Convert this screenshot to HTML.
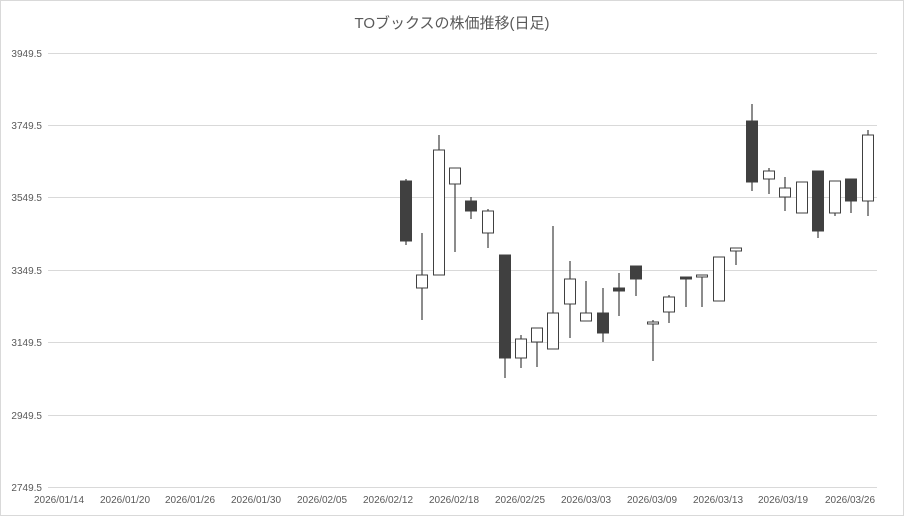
<!DOCTYPE html>
<html><head><meta charset="utf-8"><style>
body{margin:0;background:#fff}
svg{display:block;font-family:"Liberation Sans","Noto Sans CJK JP",sans-serif}
</style></head><body>
<svg width="904" height="516" viewBox="0 0 904 516" xmlns="http://www.w3.org/2000/svg">
<rect x="0.5" y="0.5" width="903" height="515" fill="#fff" stroke="#d9d9d9"/>
<text x="452" y="28" text-anchor="middle" font-size="15" fill="#595959">TOブックスの株価推移(日足)</text>
<g stroke="#d9d9d9" stroke-width="1">
<line x1="48" x2="877" y1="53.5" y2="53.5"/>
<line x1="48" x2="877" y1="125.5" y2="125.5"/>
<line x1="48" x2="877" y1="197.5" y2="197.5"/>
<line x1="48" x2="877" y1="270.5" y2="270.5"/>
<line x1="48" x2="877" y1="342.5" y2="342.5"/>
<line x1="48" x2="877" y1="415.5" y2="415.5"/>
<line x1="48" x2="877" y1="487.5" y2="487.5"/>
</g>
<g font-size="10" fill="#595959" text-anchor="end">
<text x="42" y="57">3949.5</text>
<text x="42" y="129">3749.5</text>
<text x="42" y="201">3549.5</text>
<text x="42" y="274">3349.5</text>
<text x="42" y="346">3149.5</text>
<text x="42" y="419">2949.5</text>
<text x="42" y="491">2749.5</text>
</g>
<g font-size="10" fill="#595959" text-anchor="middle">
<text x="59" y="503">2026/01/14</text>
<text x="125" y="503">2026/01/20</text>
<text x="190" y="503">2026/01/26</text>
<text x="256" y="503">2026/01/30</text>
<text x="322" y="503">2026/02/05</text>
<text x="388" y="503">2026/02/12</text>
<text x="454" y="503">2026/02/18</text>
<text x="520" y="503">2026/02/25</text>
<text x="586" y="503">2026/03/03</text>
<text x="652" y="503">2026/03/09</text>
<text x="718" y="503">2026/03/13</text>
<text x="783" y="503">2026/03/19</text>
<text x="850" y="503">2026/03/26</text>
</g>
<g stroke="#404040" stroke-width="1.2">
<line x1="406" x2="406" y1="179" y2="245"/>
<line x1="422" x2="422" y1="233" y2="320"/>
<line x1="439" x2="439" y1="135" y2="275"/>
<line x1="455" x2="455" y1="168" y2="252"/>
<line x1="471" x2="471" y1="197" y2="219"/>
<line x1="488" x2="488" y1="209" y2="248"/>
<line x1="505" x2="505" y1="255" y2="378"/>
<line x1="521" x2="521" y1="335" y2="368"/>
<line x1="537" x2="537" y1="328" y2="367"/>
<line x1="553" x2="553" y1="226" y2="349"/>
<line x1="570" x2="570" y1="261" y2="338"/>
<line x1="586" x2="586" y1="281" y2="321"/>
<line x1="603" x2="603" y1="288" y2="342"/>
<line x1="619" x2="619" y1="273" y2="316"/>
<line x1="636" x2="636" y1="266" y2="296"/>
<line x1="653" x2="653" y1="320" y2="361"/>
<line x1="669" x2="669" y1="295" y2="323"/>
<line x1="686" x2="686" y1="277" y2="307"/>
<line x1="702" x2="702" y1="275" y2="307"/>
<line x1="719" x2="719" y1="257" y2="301"/>
<line x1="736" x2="736" y1="248" y2="265"/>
<line x1="752" x2="752" y1="104" y2="191"/>
<line x1="769" x2="769" y1="168" y2="194"/>
<line x1="785" x2="785" y1="177" y2="211"/>
<line x1="802" x2="802" y1="182" y2="213"/>
<line x1="818" x2="818" y1="171" y2="238"/>
<line x1="835" x2="835" y1="181" y2="216"/>
<line x1="851" x2="851" y1="179" y2="213"/>
<line x1="868" x2="868" y1="130" y2="216"/>
</g>
<g stroke="#404040" stroke-width="1">
<rect x="400.5" y="181" width="11" height="60" fill="#404040"/>
<rect x="416.5" y="275" width="11" height="13" fill="#fff"/>
<rect x="433.5" y="150" width="11" height="125" fill="#fff"/>
<rect x="449.5" y="168" width="11" height="16" fill="#fff"/>
<rect x="465.5" y="201" width="11" height="10" fill="#404040"/>
<rect x="482.5" y="211" width="11" height="22" fill="#fff"/>
<rect x="499.5" y="255" width="11" height="103" fill="#404040"/>
<rect x="515.5" y="339" width="11" height="19" fill="#fff"/>
<rect x="531.5" y="328" width="11" height="14" fill="#fff"/>
<rect x="547.5" y="313" width="11" height="36" fill="#fff"/>
<rect x="564.5" y="279" width="11" height="25" fill="#fff"/>
<rect x="580.5" y="313" width="11" height="8" fill="#fff"/>
<rect x="597.5" y="313" width="11" height="20" fill="#404040"/>
<rect x="613.5" y="288" width="11" height="3" fill="#404040"/>
<rect x="630.5" y="266" width="11" height="13" fill="#404040"/>
<rect x="647.5" y="322" width="11" height="2" fill="#fff"/>
<rect x="663.5" y="297" width="11" height="15" fill="#fff"/>
<rect x="680.5" y="277" width="11" height="2" fill="#404040"/>
<rect x="696.5" y="275" width="11" height="2" fill="#fff"/>
<rect x="713.5" y="257" width="11" height="44" fill="#fff"/>
<rect x="730.5" y="248" width="11" height="3" fill="#fff"/>
<rect x="746.5" y="121" width="11" height="61" fill="#404040"/>
<rect x="763.5" y="171" width="11" height="8" fill="#fff"/>
<rect x="779.5" y="188" width="11" height="9" fill="#fff"/>
<rect x="796.5" y="182" width="11" height="31" fill="#fff"/>
<rect x="812.5" y="171" width="11" height="60" fill="#404040"/>
<rect x="829.5" y="181" width="11" height="32" fill="#fff"/>
<rect x="845.5" y="179" width="11" height="22" fill="#404040"/>
<rect x="862.5" y="135" width="11" height="66" fill="#fff"/>
</g>
</svg>
</body></html>
